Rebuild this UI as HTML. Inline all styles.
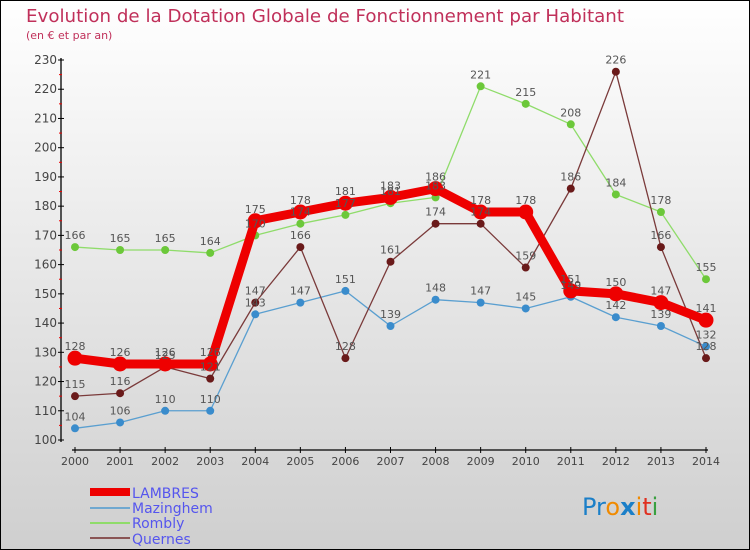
<!DOCTYPE html>
<html><head><meta charset="utf-8"><style>
body{margin:0}
#c{width:750px;height:550px;position:relative;overflow:hidden}
svg text{font-family:"DejaVu Sans","Liberation Sans",sans-serif}
</style></head><body>
<div id="c">
<svg id="s" width="750" height="550" xmlns="http://www.w3.org/2000/svg">
<defs><linearGradient id="bg" x1="0" y1="0" x2="0" y2="1"><stop offset="0" stop-color="#ffffff"/><stop offset="1" stop-color="#cfcfcf"/></linearGradient></defs>
<rect x="0.5" y="0.5" width="749" height="549" fill="url(#bg)" stroke="#000"/>
<text x="26" y="22" font-size="18" fill="#c0305a" textLength="598" lengthAdjust="spacingAndGlyphs">Evolution de la Dotation Globale de Fonctionnement par Habitant</text>
<text x="26" y="39" font-size="11" fill="#c0305a">(en € et par an)</text>
<g id="axes"></g><g id="series"></g><g id="labels"></g>
<g>
<rect x="90" y="488" width="40" height="8" fill="#ee0000"/>
<text x="132" y="498" font-size="14" fill="#5555ee">LAMBRES</text>
<rect x="90" y="507" width="40" height="2" fill="#6fa8d0"/>
<text x="132" y="513" font-size="14" fill="#5555ee">Mazinghem</text>
<rect x="90" y="522" width="40" height="2" fill="#8fdc6a"/>
<text x="132" y="528" font-size="14" fill="#5555ee">Rombly</text>
<rect x="90" y="537" width="40" height="2" fill="#8a5555"/>
<text x="132" y="544" font-size="14" fill="#5555ee">Quernes</text>
</g>
<text x="582" y="515" font-size="24"><tspan fill="#1b7fc8">Pr</tspan><tspan fill="#f08a00">o</tspan><tspan fill="#1b7fc8" font-weight="bold">x</tspan><tspan fill="#f08a00">i</tspan><tspan fill="#e03020">t</tspan><tspan fill="#3aa040">i</tspan></text>
</svg></div>
<script>
const years=[2000,2001,2002,2003,2004,2005,2006,2007,2008,2009,2010,2011,2012,2013,2014];
const lambres=[128,126,126,126,175,178,181,183,186,178,178,151,150,147,141];
const mazinghem=[104,106,110,110,143,147,151,139,148,147,145,149,142,139,132];
const rombly=[166,165,165,164,170,174,177,181,183,221,215,208,184,178,155];
const quernes=[115,116,125,121,147,166,128,161,174,174,159,186,226,166,128];
const yTicks=[100,110,120,130,140,150,160,170,180,190,200,210,220,230];
const NS="http://www.w3.org/2000/svg";
const x=i=>75+i*(706-75)/(years.length-1);
const y=v=>440-(v-100)*(380/130);
function mk(tag,attrs,parent){const e=document.createElementNS(NS,tag);for(const k in attrs)e.setAttribute(k,attrs[k]);parent.appendChild(e);return e;}
const ax=document.getElementById('axes'),sg=document.getElementById('series'),lg=document.getElementById('labels');
let l=mk('line',{x1:61,y1:58,x2:61,y2:442,stroke:'#000','stroke-width':1.3},ax);


l=mk('line',{x1:72,y1:450,x2:708,y2:450,stroke:'#000','stroke-width':1.3},ax);


yTicks.forEach((v,i)=>{
  mk('line',{x1:58,y1:y(v),x2:64,y2:y(v),stroke:'#000'},ax);
  if(i<yTicks.length-1)mk('line',{x1:59,y1:y(v+5),x2:62,y2:y(v+5),stroke:'#e00'},ax);
  const t=mk('text',{x:57,y:y(v)+4,'font-size':12,fill:'#444','text-anchor':'end'},ax);
  t.textContent=v;
  
  
});
years.forEach((yr,i)=>{
  mk('line',{x1:x(i),y1:447,x2:x(i),y2:453,stroke:'#000'},ax);
  const t=mk('text',{x:x(i),y:465,'font-size':11,fill:'#444','text-anchor':'middle'},ax);
  t.textContent=yr;
  
  
});
const series=[
 {n:'mazinghem',d:mazinghem,c:'#5a9fd0',f:'#3a8ccc',w:1.3,r:4},
 {n:'rombly',d:rombly,c:'#8fdc6a',f:'#6cc83a',w:1.3,r:4},
 {n:'quernes',d:quernes,c:'#7a3a3a',f:'#6a1a1a',w:1.3,r:4},
 {n:'lambres',d:lambres,c:'#ee0000',f:'#ee0000',w:9,r:7.5}
];
series.forEach(s=>{
  const p=mk('polyline',{points:s.d.map((v,i)=>x(i)+','+y(v)).join(' '),fill:'none',stroke:s.c,'stroke-width':s.w,'stroke-linejoin':'round'},sg);
  
  
  s.d.forEach((v,i)=>{
    const c=mk('circle',{cx:x(i),cy:y(v),r:s.r,fill:s.f},sg);
    
    
    const t=mk('text',{x:x(i),y:y(v)-8,'font-size':11,fill:'#555','text-anchor':'middle'},lg);
    t.textContent=v;
    
    
  });
});
</script>
</body></html>
